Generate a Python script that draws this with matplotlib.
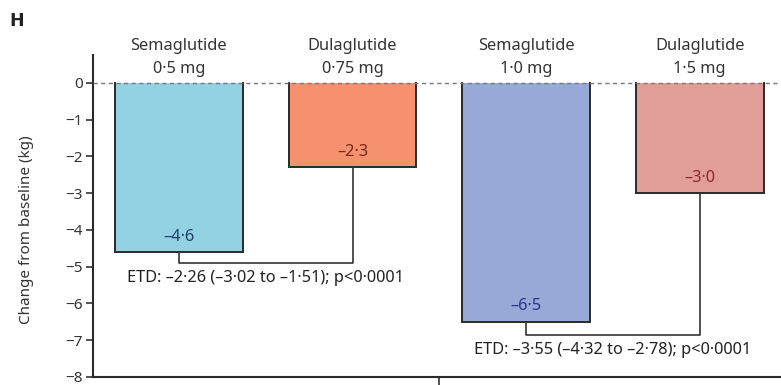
import matplotlib.pyplot as plt

plt.rcParams['font.family'] = ['Noto Sans', 'DejaVu Sans']

# treatment arms and mean change in body weight (kg)
drugs = ['Semaglutide', 'Dulaglutide', 'Semaglutide', 'Dulaglutide']
doses = ['0·5 mg', '0·75 mg', '1·0 mg', '1·5 mg']
change = [-4.6, -2.3, -6.5, -3.0]
value_labels = ['–4·6', '–2·3', '–6·5', '–3·0']

# estimated treatment differences: bracket between two arms
etd_pairs = [(0, 1), (2, 3)]
etd_depth = [-4.9, -6.86]
etd_text = ['ETD: –2·26 (–3·02 to –1·51); p<0·0001',
            'ETD: –3·55 (–4·32 to –2·78); p<0·0001']

fill = ['#93d2e2', '#f5916f', '#97aad7', '#e39d99']
text_col = ['#1e3f66', '#7a2812', '#253785', '#862a28']
edge = '#2a2a2a'
fs = 11.8

fig = plt.figure(figsize=(7.81, 3.85), dpi=100)
ax = fig.add_axes([0.119, 0.021, 0.881, 0.836])

w = 0.737
x = list(range(len(change)))
ax.bar(x, change, width=w, color=fill, linewidth=0, zorder=2)
# outline each bar on the sides and bottom only
for xi, v in zip(x, change):
    ax.plot([xi - w / 2, xi - w / 2, xi + w / 2, xi + w / 2], [0, v, v, 0],
            color=edge, lw=1.4, zorder=3, solid_joinstyle='miter')

ax.axhline(0, color='#777777', lw=1.0, ls=(0, (3, 2.5)), zorder=4)

for xi, v, lab, c in zip(x, change, value_labels, text_col):
    ax.text(xi, v + 0.2, lab, ha='center', va='bottom', fontsize=fs, color=c)

for xi, d, dose in zip(x, drugs, doses):
    ax.text(xi, 0.17, f'{d}\n{dose}', ha='center', va='bottom', fontsize=fs,
            color='#333333', linespacing=1.55)

for (a, b), depth, txt in zip(etd_pairs, etd_depth, etd_text):
    ax.plot([a, a, b, b], [change[a], depth, depth, change[b]],
            color='#333333', lw=1.2, zorder=3)
    ax.text((a + b) / 2, depth - 0.18, txt, ha='center', va='top',
            fontsize=fs, color='#222222')

ax.set_xlim(-0.495, 3.468)
ax.set_ylim(-8, 0.76)
ax.set_yticks(range(-8, 1))
ax.set_xticks([1.5])
ax.set_xticklabels([''])
ax.tick_params(axis='y', direction='out', length=5, width=1.2,
               labelsize=11, colors='#333333', pad=2)
ax.tick_params(axis='x', direction='out', length=6, width=1.2, colors='#333333')

for s in ['top', 'right']:
    ax.spines[s].set_visible(False)
for s in ['left', 'bottom']:
    ax.spines[s].set_linewidth(1.5)
    ax.spines[s].set_color('#2a2a2a')

ax.set_ylabel('Change from baseline (kg)', fontsize=11, color='#333333')
ax.yaxis.set_label_coords(-0.085, 4 / 8.76)

fig.text(0.012, 0.945, 'H', fontsize=12.5, fontweight='bold', color='#222222',
         va='center', family='DejaVu Sans')

fig.savefig('out.png', dpi=100)
